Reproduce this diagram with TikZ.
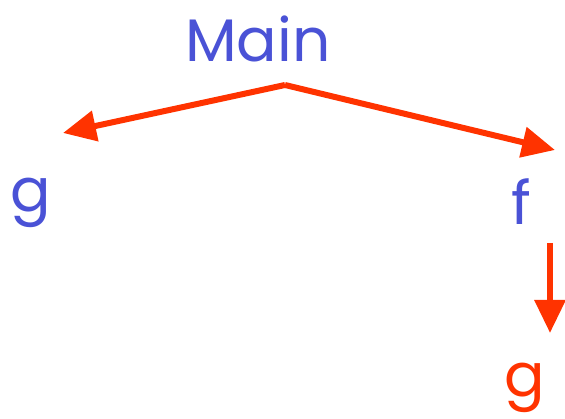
\documentclass[tikz,border=0pt]{standalone}
\usepackage{fontspec}
\setmainfont{Poppins}
\usetikzlibrary{arrows.meta}
\definecolor{labblue}{HTML}{4A52D6}
\definecolor{arred}{HTML}{FF3300}
\tikzset{
  lbl/.style={font=\fontsize{60}{68}\selectfont, anchor=base, inner sep=0pt},
  arr/.style={draw=arred, line width=6pt, -{Triangle[length=33pt,width=30pt]}}
}
\begin{document}
\begin{tikzpicture}[x=1pt,y=1pt]
\useasboundingbox (0,0) rectangle (565,419);
\node[lbl, text=labblue] (Main) at (258,357) {Main};
\node[lbl, text=labblue] (gL) at (31,207) {g};
\node[lbl, text=labblue] (f) at (521,194) {f};
\node[lbl, text=arred] (gB) at (525,22) {g};
\coordinate (apex) at (285,334);
\coordinate (tipL) at (63,286);
\coordinate (tipR) at (555,269);
\coordinate (dStart) at (550,176);
\coordinate (dTip) at (550,86);
\draw[arr] (apex) -- (tipL);
\draw[arr] (apex) -- (tipR);
\draw[arr] (dStart) -- (dTip);
\end{tikzpicture}
\end{document}
